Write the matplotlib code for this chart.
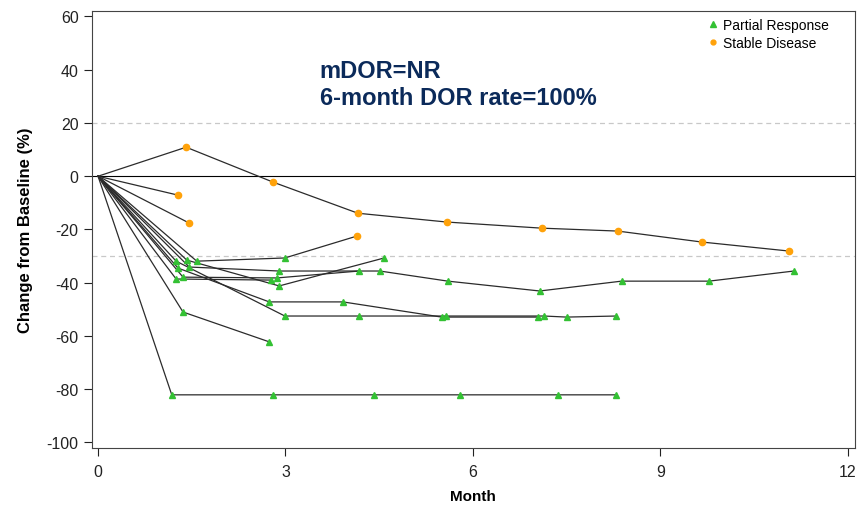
import matplotlib
matplotlib.use("Agg")
import matplotlib.pyplot as plt
from matplotlib.lines import Line2D

plt.rcParams['font.family'] = ['Liberation Sans', 'DejaVu Sans']
plt.rcParams['axes.unicode_minus'] = False

# months on study and % change from baseline for each patient (baseline 0,0 added when drawing)
months = [
    [1.41, 2.80, 4.16, 5.58, 7.10, 8.32, 9.66, 11.06],
    [1.28],
    [1.46],
    [1.58, 2.99, 4.14],
    [1.42, 2.90, 4.58],
    [1.46, 2.90, 4.51, 5.60, 7.07, 8.38, 9.78, 11.14],
    [1.36, 2.86, 4.18],
    [1.28, 2.74, 3.92, 5.50, 7.04],
    [1.25, 2.99, 4.18, 5.57, 7.14, 7.50, 8.29],
    [1.25, 2.77],
    [1.36, 2.74],
    [1.18, 2.80, 4.42, 5.79, 7.36, 8.29],
]
change = [
    [10.9, -2.2, -13.9, -17.2, -19.5, -20.6, -24.7, -28.1],
    [-7.1],
    [-17.6],
    [-31.9, -30.7, -22.5],
    [-31.5, -41.2, -30.7],
    [-34.1, -35.6, -35.6, -39.4, -43.1, -39.4, -39.4, -35.6],
    [-37.9, -38.2, -35.6],
    [-34.5, -47.2, -47.2, -52.9, -52.9],
    [-31.9, -52.5, -52.5, -52.5, -52.5, -52.9, -52.5],
    [-38.6, -39.0],
    [-51.0, -62.2],
    [-82.1, -82.1, -82.1, -82.1, -82.1, -82.1],
]
# response at each assessment
resp = [
    ['SD'] * 8,
    ['SD'],
    ['SD'],
    ['PR', 'PR', 'SD'],
    ['PR'] * 3,
    ['PR'] * 8,
    ['PR'] * 3,
    ['PR'] * 5,
    ['PR'] * 7,
    ['PR'] * 2,
    ['PR'] * 2,
    ['PR'] * 6,
]

green = '#33c133'
orange = '#ffa20a'

fig = plt.figure(figsize=(8.58, 5.06), dpi=100)
ax = fig.add_axes([0.107, 0.113, 0.889, 0.863])

ax.axhline(0, color='black', lw=0.8, zorder=1)
ax.axhline(20, color='#c8c8c8', lw=0.9, ls=(0, (4, 3)), zorder=1)
ax.axhline(-30, color='#c8c8c8', lw=0.9, ls=(0, (4, 3)), zorder=1)

for m, c, r in zip(months, change, resp):
    ax.plot([0] + m, [0] + c, color='#2b2b2b', lw=0.9, zorder=2)
    for xi, yi, ri in zip(m, c, r):
        if ri == 'PR':
            ax.plot(xi, yi, marker='^', ms=5, color=green, ls='none', zorder=3)
        else:
            ax.plot(xi, yi, marker='o', ms=4.5, color=orange, ls='none', zorder=3)

ax.set_xlim(-0.1, 12.11)
ax.set_ylim(-102, 62)
ax.set_xticks([0, 3, 6, 9, 12])
ax.set_yticks(range(-100, 61, 20))
ax.tick_params(direction='out', length=6, width=0.8, labelsize=11.5, colors='#222222')
ax.tick_params(axis='x', pad=6)
for s in ax.spines.values():
    s.set_linewidth(0.8)
    s.set_color('#444444')

ax.set_xlabel('Month', fontsize=11, fontweight='bold', labelpad=7)
ax.set_ylabel('Change from Baseline (%)', fontsize=12, fontweight='bold', labelpad=10)

ax.text(0.299, 0.89, 'mDOR=NR\n6-month DOR rate=100%', transform=ax.transAxes,
        fontsize=17, fontweight='bold', color='#0b2a5a', va='top', ha='left',
        linespacing=1.2)

handles = [Line2D([], [], marker='^', ms=4, color=green, ls='none'),
           Line2D([], [], marker='o', ms=3.5, color=orange, ls='none')]
ax.legend(handles, ['Partial Response', 'Stable Disease'], loc='upper right',
          frameon=False, fontsize=10, handletextpad=0.2, handlelength=1,
          borderaxespad=0.1, labelspacing=0.25, bbox_to_anchor=(0.975, 1.0))

fig.savefig('out.png', dpi=100)
